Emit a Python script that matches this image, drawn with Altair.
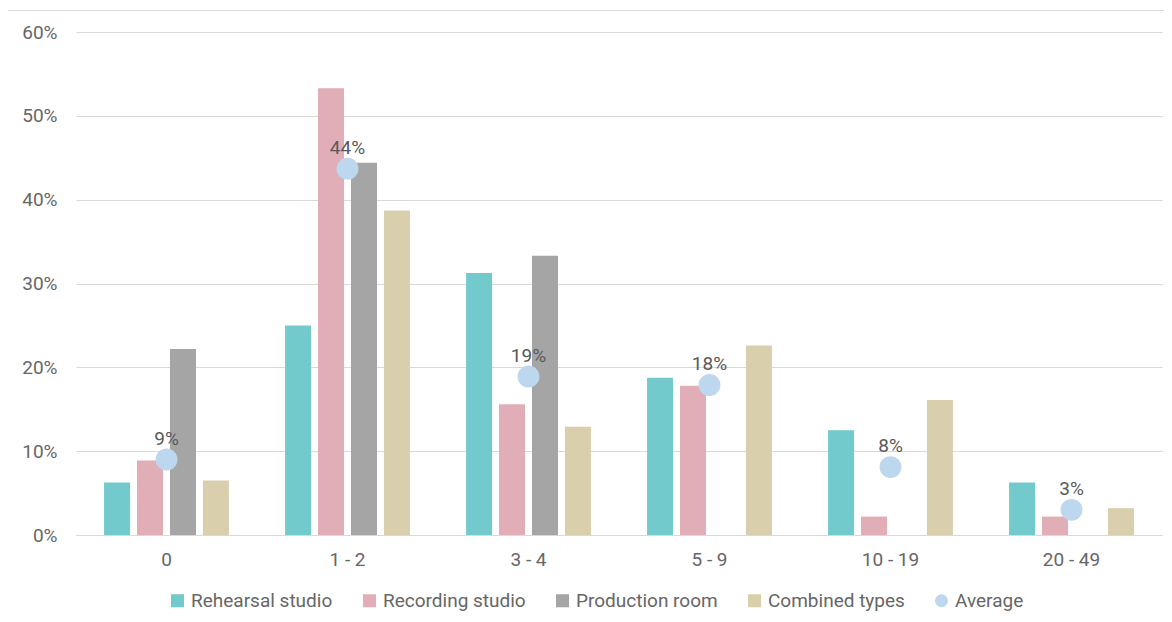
import altair as alt
import pandas as pd

categories = ["0", "1 - 2", "3 - 4", "5 - 9", "10 - 19", "20 - 49"]
series = ["Rehearsal studio", "Recording studio", "Production room", "Combined types"]
rehearsal = [6.25, 25.0, 31.25, 18.75, 12.5, 6.25]
recording = [8.9, 53.3, 15.6, 17.8, 2.2, 2.2]
production = [22.2, 44.4, 33.3, 0.0, 0.0, 0.0]
combined = [6.5, 38.7, 12.9, 22.6, 16.1, 3.2]
average = [9.0, 43.7, 18.9, 17.9, 8.1, 3.0]

colors = ["#72CACD", "#E1AEB8", "#A5A5A5", "#D9CFAC", "#BDD7EE"]
legend_names = series + ["Average"]

rows = []
for name, vals in zip(series, [rehearsal, recording, production, combined]):
    for c, v in zip(categories, vals):
        rows.append({"cat": c, "series": name, "value": v / 100})
bars_df = pd.DataFrame(rows)
avg_df = pd.DataFrame({"cat": categories, "series": "Average",
                       "value": [v / 100 for v in average]})

FONT = "Roboto"
GRAY = "#666666"
FS = 19

x = alt.X("cat:N", sort=categories, title=None,
          scale=alt.Scale(paddingInner=0.31, paddingOuter=0.155),
          axis=alt.Axis(labelAngle=0, ticks=False, domainColor="#D9D9D9",
                        labelPadding=15, labelFontSize=FS, labelColor=GRAY,
                        labelFont=FONT))
y = alt.Y("value:Q", title=None,
          scale=alt.Scale(domain=[0, 0.6], nice=False),
          axis=alt.Axis(format=".0%", values=[0, 0.1, 0.2, 0.3, 0.4, 0.5, 0.6],
                        domain=False, ticks=False, gridColor="#D9D9D9",
                        labelPadding=19, labelFontSize=FS, labelColor=GRAY,
                        labelFont=FONT))

color = alt.Color("series:N", title=None,
                  scale=alt.Scale(domain=legend_names, range=colors),
                  legend=alt.Legend(orient="none", direction="horizontal",
                                    legendX=92, legendY=559,
                                    labelFontSize=FS, labelColor=GRAY,
                                    labelFont=FONT, symbolSize=170,
                                    columnPadding=27, labelOffset=4,
                                    symbolStrokeWidth=0))
shape = alt.Shape("series:N", title=None,
                  scale=alt.Scale(domain=legend_names,
                                  range=["square", "square", "square", "square", "circle"]),
                  legend=alt.Legend(orient="none", direction="horizontal",
                                    legendX=92, legendY=559))

bars = alt.Chart(bars_df).mark_bar().encode(
    x=x, y=y,
    xOffset=alt.XOffset("series:N", sort=series,
                        scale=alt.Scale(paddingInner=0.21, paddingOuter=0)),
    color=color,
)

points = alt.Chart(avg_df).mark_point(filled=True, size=480, opacity=1).encode(
    x=x, y=y, color=color, shape=shape,
)

labels = alt.Chart(avg_df).mark_text(baseline="bottom", dy=-11, fontSize=FS,
                                     color="#595959", font=FONT).encode(
    x=x, y=y, text=alt.Text("value:Q", format=".0%"),
)

frame_left = alt.Chart(avg_df).mark_rule(color="#D9D9D9", strokeWidth=1).encode(
    x=alt.value(-68.5), y=alt.value(-22), y2=alt.value(600),
)
frame_top = alt.Chart(avg_df).mark_rule(color="#D9D9D9", strokeWidth=1).encode(
    x=alt.value(-68.5), x2=alt.value(1100), y=alt.value(-21.5),
)

chart = alt.layer(frame_left, frame_top, bars, points, labels).properties(
    width=1086, height=503,
    autosize=alt.AutoSizeParams(type="none"),
    padding={"left": 68, "top": 24, "right": 2, "bottom": 80},
).configure_view(stroke=None).configure_legend(padding=0)

chart.save("out.html", embed_options={"renderer": "svg", "actions": False})
